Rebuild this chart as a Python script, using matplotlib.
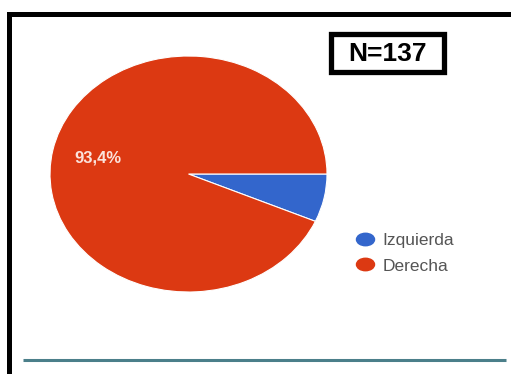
import matplotlib.pyplot as plt
from matplotlib.lines import Line2D
from matplotlib.patches import Rectangle
from matplotlib.path import Path
from matplotlib.transforms import Affine2D

# Survey answers (N = 137)
categories = ["Izquierda", "Derecha"]
counts = [9, 128]
colors = ["#3366CC", "#DC3912"]

W, H = 511, 374
fig = plt.figure(figsize=(W / 100, H / 100), dpi=100)

# background layer in pixel coordinates for frame, rule and N box
bg = fig.add_axes([0, 0, 1, 1])
bg.set_xlim(0, W)
bg.set_ylim(H, 0)
bg.axis("off")
bg.plot([8.5, 8.5, W + 5], [H + 5, 13.5, 13.5], color="black", lw=3.6,
        solid_joinstyle="miter", solid_capstyle="butt")
bg.plot([23, 506], [359.5, 359.5], color="#4B7F8A", lw=2.2, solid_capstyle="butt")
bg.add_patch(Rectangle((331, 34), 113, 38, fill=False, ec="black", lw=3.8))
bg.text(387.5, 53.5, f"N={sum(counts)}", ha="center", va="center",
        fontsize=19, fontweight="bold", family="Liberation Sans", color="black")

# pie, slightly stretched horizontally
cx, cy, rx, ry = 188.5, 174, 138.5, 118
ax = fig.add_axes([(cx - rx) / W, 1 - (cy + ry) / H, 2 * rx / W, 2 * ry / H])


def pct_label(p):
    return f"{p:.1f}%".replace(".", ",") if p > 10 else ""


wedges, _, autotexts = ax.pie(
    counts, colors=colors, startangle=0, counterclock=False,
    autopct=pct_label, pctdistance=0.67,
    wedgeprops=dict(edgecolor="white", linewidth=0.8),
    textprops=dict(color="#FBE3DC", fontsize=12, fontweight="bold",
                   family="Liberation Sans"),
)
ax.set_xlim(-1, 1)
ax.set_ylim(-1, 1)
ax.set_aspect("auto")

# wide oval markers for the legend
oval = Path.unit_circle().transformed(Affine2D().scale(1.45, 1.0))
handles = [Line2D([], [], marker=oval, ls="", markersize=13,
                  markerfacecolor=c, markeredgecolor=c) for c in colors]
fig.legend(handles, categories, loc="center left",
           bbox_to_anchor=(339 / W, 1 - 253 / H), frameon=False,
           handletextpad=0.42, labelspacing=0.62, handlelength=1.2,
           prop=dict(family="Liberation Sans", size=12.5), labelcolor="#555555")

fig.savefig("out.png", dpi=100)
